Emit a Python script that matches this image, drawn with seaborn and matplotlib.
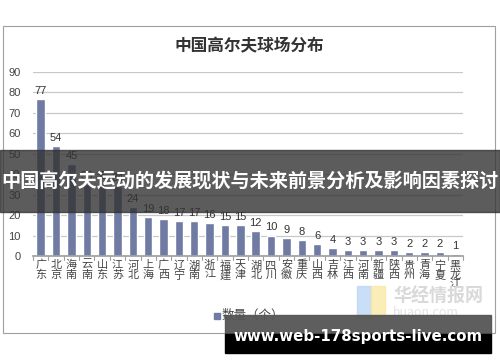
import matplotlib
matplotlib.use("Agg")
import matplotlib.pyplot as plt
import seaborn as sns
import pandas as pd
from matplotlib.patches import Rectangle

provinces = ["广东", "北京", "海南", "云南", "山东", "江苏", "河北", "上海", "广西", "辽宁",
             "湖南", "浙江", "福建", "天津", "湖北", "四川", "安徽", "重庆", "山西", "吉林",
             "江西", "河南", "新疆", "陕西", "贵州", "青海", "宁夏", "黑龙江"]
counts = [77, 54, 45, 35, 35, 34, 24, 19, 18, 17, 17, 16, 15, 15, 12, 10, 9, 8, 6, 4,
          3, 3, 3, 3, 2, 2, 2, 1]
y_ticks = [0, 10, 20, 30, 40, 50, 60, 70, 80, 90]
title = "中国高尔夫球场分布"
legend_label = "数量（个）"
banner = "中国高尔夫运动的发展现状与未来前景分析及影响因素探讨"
site = "www.web-178sports-live.com"

sns.set_theme(style="white")
plt.rcParams['font.family'] = ['Noto Sans CJK SC', 'DejaVu Sans']

W, H = 500, 362
fig = plt.figure(figsize=(5, 3.62), dpi=100)
fig.patch.set_facecolor("white")

def fx(x):
    return x / W
def fy(y):
    return 1 - y / H

# chart frame
fig.patches.append(Rectangle((fx(3), fy(333)), fx(495) - fx(3), fy(26) - fy(333),
                             transform=fig.transFigure, fill=False, edgecolor="#a0a0a0", lw=0.8, zorder=0))

ax = fig.add_axes([fx(33), fy(256), fx(463) - fx(33), fy(72) - fy(256)])
df = pd.DataFrame({"省份": provinces, "数量": counts})
bar_color = "#6f7ba3"
sns.barplot(data=df, x="省份", y="数量", color=bar_color, width=0.55, ax=ax, saturation=1)
ax.set_ylim(0, 90)
ax.set_xlim(-0.5, len(provinces) - 0.5)
ax.set_yticks(y_ticks)
ax.set_yticklabels([str(t) for t in y_ticks], fontsize=8, color="#444444", family=['Liberation Sans', 'DejaVu Sans'])
ax.yaxis.grid(True, color="#c8c8c8", lw=0.9)
ax.set_axisbelow(True)
for s in ["top", "right", "left"]:
    ax.spines[s].set_visible(False)
ax.spines["bottom"].set_color("#a0a0a0")
ax.tick_params(axis="y", length=0, pad=9)
ax.set_xticks(range(len(provinces)))
ax.set_xticklabels(["\n".join(p) for p in provinces], fontsize=8, color="#444444", linespacing=0.92)
ax.tick_params(axis="x", length=0, pad=3)
# boundary ticks
for i in range(len(provinces) + 1):
    ax.plot([i - 0.5, i - 0.5], [0, -1.8], color="#a0a0a0", lw=0.8, clip_on=False)
ax.set_xlabel("")
ax.set_ylabel("")
ax.set_facecolor("none")

for i, v in enumerate(counts):
    ax.text(i, v + 1.5, str(v), ha="center", va="bottom", fontsize=8, color="#333333",
            family=['Liberation Sans', 'DejaVu Sans'])

fig.text(fx(249), fy(46), title, ha="center", va="center", fontsize=12, fontweight="bold", color="#333333")

# legend
fig.patches.append(Rectangle((fx(214), fy(319)), fx(6) - fx(0), fy(0) - fy(6),
                             transform=fig.transFigure, color=bar_color))
fig.text(fx(222), fy(315), legend_label, ha="left", va="center", fontsize=9, color="#444444")

# watermark
fig.text(fx(393), fy(296), "华经情报网", ha="left", va="center", fontsize=13, fontweight="bold", color="#d9d9d9")
fig.text(fx(393), fy(313), "huaon.com", ha="left", va="center", fontsize=9, color="#e3e3e3")
fig.patches.append(Rectangle((fx(357), fy(318)), fx(14), fy(0) - fy(32),
                             transform=fig.transFigure, color="#bcd6f5", alpha=0.8))
fig.patches.append(Rectangle((fx(371), fy(318)), fx(14), fy(0) - fy(32),
                             transform=fig.transFigure, color="#fbe9a6", alpha=0.8))

# banner overlay
fig.patches.append(Rectangle((0, fy(212)), 1, fy(150) - fy(212),
                             transform=fig.transFigure, color="#333333", alpha=0.8, zorder=5))
fig.text(0.5, fy(182), banner, ha="center", va="center", fontsize=13.8, fontweight="bold",
         color="white", zorder=6)

# bottom-right site box
fig.patches.append(Rectangle((fx(225), fy(334)), fx(491) - fx(225), fy(315) - fy(334),
                             transform=fig.transFigure, color="#555555", alpha=0.95, zorder=5))
fig.patches.append(Rectangle((fx(225), fy(353)), fx(491) - fx(225), fy(334) - fy(353),
                             transform=fig.transFigure, color="black", zorder=5))
fig.text(fx(358), fy(337), site, ha="center", va="center", fontsize=10.8, fontweight="bold",
         color="white", family=['DejaVu Sans'], zorder=6)

fig.savefig("out.png", dpi=100)
